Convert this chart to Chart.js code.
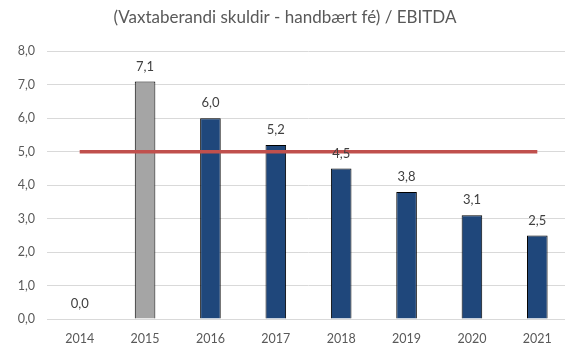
<!DOCTYPE html>
<html lang="is">
<head>
    <meta charset="UTF-8">
    <title>Vaxtaberandi skuldir / EBITDA</title>
    <script src="https://cdn.jsdelivr.net/npm/chart.js"></script>
    <style>
        body, html {
            margin: 0;
            padding: 0;
            background: #ffffff;
            overflow: hidden;
        }
        .wrap {
            width: 572px;
            height: 345px;
        }
    </style>
</head>
<body>
    <div class="wrap">
        <canvas id="debtChart"></canvas>
    </div>

    <script>
        const years = ['2014', '2015', '2016', '2017', '2018', '2019', '2020', '2021'];
        const ratio = [0.0, 7.1, 6.0, 5.2, 4.5, 3.8, 3.1, 2.5];
        const target = [5, 5, 5, 5, 5, 5, 5, 5];
        const yTicks = [0, 1, 2, 3, 4, 5, 6, 7, 8];

        const FONT = 'Lato, "Open Sans", sans-serif';
        const fmt = v => v.toFixed(1).replace('.', ',');

        // value labels above each bar, drawn after the target line
        const barLabels = {
            id: 'barLabels',
            afterDatasetsDraw(chart) {
                const c = chart.ctx;
                const meta = chart.getDatasetMeta(0);
                c.save();
                c.font = '13px ' + FONT;
                c.fillStyle = '#404040';
                c.textAlign = 'center';
                c.textBaseline = 'middle';
                meta.data.forEach((bar, i) => {
                    c.fillText(fmt(ratio[i]), bar.x, bar.y - 15);
                });
                c.restore();
            }
        };

        new Chart(document.getElementById('debtChart'), {
            data: {
                labels: years,
                datasets: [{
                    type: 'bar',
                    data: ratio,
                    order: 1,
                    backgroundColor: ctx => ctx.dataIndex === 1 ? '#a5a5a5' : '#1f477b',
                    borderColor: '#000000',
                    borderWidth: 1,
                    barPercentage: 1,
                    categoryPercentage: 0.315
                }, {
                    type: 'line',
                    data: target,
                    order: 0,
                    borderColor: '#c0504d',
                    borderWidth: 3.5,
                    pointRadius: 0,
                    fill: false
                }]
            },
            options: {
                responsive: true,
                maintainAspectRatio: false,
                animation: false,
                layout: { padding: { top: 7, right: 2, left: 0, bottom: 0 } },
                plugins: {
                    legend: { display: false },
                    tooltip: { enabled: false },
                    title: {
                        display: true,
                        text: '(Vaxtaberandi skuldir - handbært fé) / EBITDA',
                        color: '#595959',
                        font: { family: FONT, size: 17, weight: 'normal' },
                        padding: { top: 0, bottom: 24 }
                    }
                },
                scales: {
                    x: {
                        grid: { display: false, drawTicks: false },
                        border: { color: '#d9d9d9' },
                        ticks: {
                            color: '#595959',
                            font: { family: FONT, size: 12.5 },
                            padding: 12
                        },
                        afterFit: s => { s.height = 26; }
                    },
                    y: {
                        min: 0,
                        max: 8,
                        afterBuildTicks: s => { s.ticks = yTicks.map(v => ({ value: v })); },
                        grid: { color: '#d9d9d9', drawTicks: false },
                        border: { display: false },
                        ticks: {
                            color: '#595959',
                            font: { family: FONT, size: 12.5 },
                            padding: 12,
                            callback: v => fmt(v)
                        },
                        afterFit: s => { s.width = 47; }
                    }
                }
            },
            plugins: [barLabels]
        });
    </script>
</body>
</html>
